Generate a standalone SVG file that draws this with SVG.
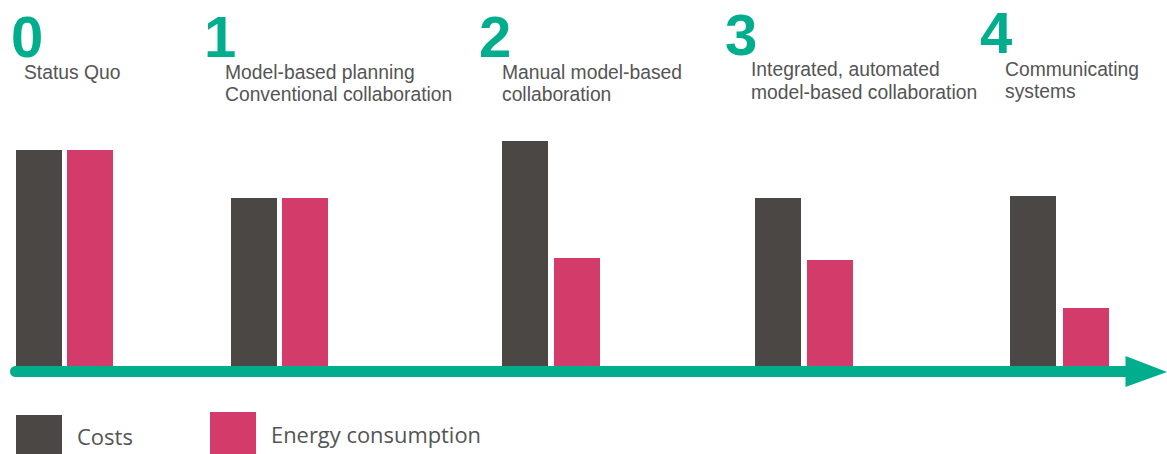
<svg xmlns="http://www.w3.org/2000/svg" width="1167" height="454" viewBox="0 0 1167 454">
<style>
.num{font-family:"Liberation Sans",Arial,sans-serif;font-weight:bold;font-size:58px;fill:#00AE8E}
.lbl{font-family:"Liberation Sans",Arial,sans-serif;font-size:19.3px;fill:#545454}
.leg{font-family:"Open Sans","Liberation Sans",sans-serif;font-size:22px;fill:#545454}
.cost{fill:#4B4744}
.energy{fill:#D33C6A}
</style>
<rect width="1167" height="454" fill="#FFFFFF"/>
<g id="stage0">
<text class="num" x="11" y="57">0</text>
<text class="lbl" x="24" y="79">Status Quo</text>
<rect class="cost" x="16" y="150" width="46" height="216"/>
<rect class="energy" x="67" y="150" width="46" height="216"/>
</g>
<g id="stage1">
<text class="num" x="204" y="57">1</text>
<text class="lbl" x="225" y="79">Model-based planning</text>
<text class="lbl" x="225" y="101">Conventional collaboration</text>
<rect class="cost" x="231" y="198" width="46" height="168"/>
<rect class="energy" x="282" y="198" width="46" height="168"/>
</g>
<g id="stage2">
<text class="num" x="479" y="57">2</text>
<text class="lbl" x="502" y="79">Manual model-based</text>
<text class="lbl" x="502" y="101">collaboration</text>
<rect class="cost" x="502" y="141" width="46" height="225"/>
<rect class="energy" x="554" y="258" width="46" height="108"/>
</g>
<g id="stage3">
<text class="num" x="725" y="55">3</text>
<text class="lbl" x="751" y="76">Integrated, automated</text>
<text class="lbl" x="751" y="99">model-based collaboration</text>
<rect class="cost" x="755" y="198" width="46" height="168"/>
<rect class="energy" x="807" y="260" width="46" height="106"/>
</g>
<g id="stage4">
<text class="num" x="980" y="53">4</text>
<text class="lbl" x="1005" y="76">Communicating</text>
<text class="lbl" x="1005" y="98">systems</text>
<rect class="cost" x="1010" y="196" width="46" height="170"/>
<rect class="energy" x="1063" y="308" width="46" height="58"/>
</g>
<g id="connectors">
<line x1="15.5" y1="371.5" x2="1128" y2="371.5" stroke="#00AE8E" stroke-width="11" stroke-linecap="round"/>
<polygon points="1125.5,356 1167,372 1125.5,387" fill="#00AE8E"/>
</g>
<g id="legend-costs">
<rect class="cost" x="16" y="415" width="46" height="39"/>
<text class="leg" x="77" y="445">Costs</text>
</g>
<g id="legend-energy">
<rect class="energy" x="210" y="412" width="46" height="42"/>
<text class="leg" x="271" y="443" textLength="210" lengthAdjust="spacingAndGlyphs">Energy consumption</text>
</g>
</svg>
